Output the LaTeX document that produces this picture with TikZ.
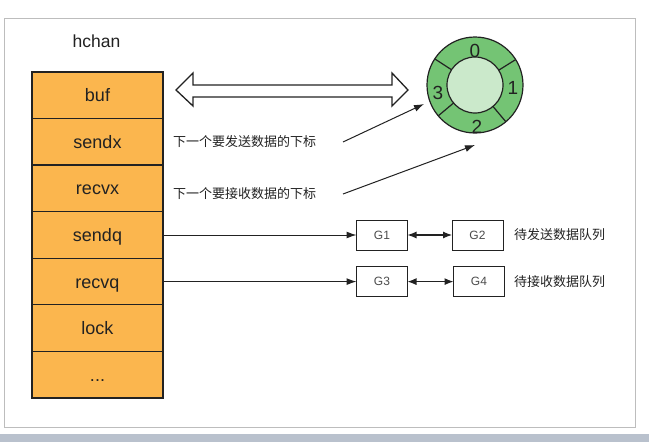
\documentclass[tikz,border=0pt]{standalone}
\usepackage{fontspec}
\setmainfont{Liberation Sans}
\newfontfamily\cjk{Noto Sans CJK SC}
\usetikzlibrary{arrows.meta,calc}
\definecolor{orangefill}{HTML}{FBB64E}
\definecolor{ringgreen}{HTML}{74C474}
\definecolor{hubgreen}{HTML}{CBE9CB}
\definecolor{framegray}{HTML}{BDBDBD}
\definecolor{stripblue}{HTML}{B9C1CD}
\definecolor{inkdark}{HTML}{222222}
\begin{document}
\begin{tikzpicture}[x=1pt,y=-1pt,
  fieldbox/.style={draw=inkdark, line width=1.2pt, fill=orangefill, minimum width=131pt, minimum height=46.57pt, inner sep=0pt, outer sep=0pt, text height=13pt, text depth=0pt, font=\fontsize{18}{20}\selectfont, text=inkdark},
  gbox/.style={draw=inkdark, line width=1pt, minimum width=51pt, minimum height=30pt, inner sep=0pt, outer sep=0pt, font=\fontsize{12}{14}\selectfont, text=black!70},
  cjktext/.style={font=\cjk\fontsize{13}{15}\selectfont, text=inkdark, inner sep=0pt, anchor=west},
  digit/.style={font=\fontsize{19}{21}\selectfont, text=inkdark, inner sep=0pt},
  ptr/.style={-{Latex[length=10pt,width=7pt]}, line width=1pt, draw=inkdark},
  biptr/.style={{Latex[length=9pt,width=7pt]}-{Latex[length=9pt,width=7pt]}, line width=1.1pt, draw=inkdark},
  ringline/.style={draw=inkdark, line width=1.2pt}
]
\useasboundingbox (0,0) rectangle (649,442);
\fill[white] (0,0) rectangle (649,442);
\fill[stripblue] (0,434) rectangle (649,442);
\draw[framegray, line width=1pt] (4,18) rectangle (635,427);

% title
\node[font=\fontsize{17.5}{20}\selectfont, text=inkdark] (title) at (96.5,41) {hchan};

% hchan fields
\node[fieldbox] (buf)   at (97.5,95.3)  {buf};
\node[fieldbox] (sendx) at (97.5,141.8) {sendx};
\node[fieldbox] (recvx) at (97.5,188.4) {recvx};
\node[fieldbox] (sendq) at (97.5,235.0) {sendq};
\node[fieldbox] (recvq) at (97.5,281.6) {recvq};
\node[fieldbox] (lock)  at (97.5,328.1) {lock};
\node[fieldbox] (more)  at (97.5,374.7) {...};

% ring buffer
\node[circle, minimum size=96pt, inner sep=0pt, outer sep=0pt, fill=ringgreen, ringline] (ring) at (475,85) {};
\node[circle, minimum size=56pt, inner sep=0pt, outer sep=0pt, fill=hubgreen, ringline] (hub) at (475,85) {};
\draw[ringline] (hub.147) -- (ring.147);
\draw[ringline] (hub.32) -- (ring.32);
\draw[ringline] (hub.-50) -- (ring.-50);
\draw[ringline] (hub.-140) -- (ring.-140);
\node[digit] (d0) at (475,51) {0};
\node[digit] (d1) at (513,88) {1};
\node[digit] (d2) at (477,127) {2};
\node[digit] (d3) at (438,93) {3};

% hollow double arrow
\draw[draw=inkdark, line width=1.3pt, fill=white, line join=miter]
  (176,90) -- (193,73) -- (193,85) -- (392,85) -- (392,73) -- (408,90)
  -- (392,106) -- (392,97) -- (193,97) -- (193,106) -- cycle;

% index notes
\node[cjktext] (sendxnote) at (173,142) {下一个要发送数据的下标};
\node[cjktext] (recvxnote) at (173,194) {下一个要接收数据的下标};
\coordinate (s1) at (343,142);
\coordinate (e1) at (424,104);
\coordinate (s2) at (343,194);
\coordinate (e2) at (475,145);
\draw[ptr] (s1) -- (e1);
\draw[ptr] (s2) -- (e2);

% wait queues
\node[gbox] (G1) at (382,235) {G1};
\node[gbox] (G2) at (477.5,235) {G2};
\node[gbox] (G3) at (382,281.6) {G3};
\node[gbox] (G4) at (479,281.6) {G4};
\draw[ptr] (sendq) -- (G1);
\draw[ptr] (recvq) -- (G3);
\draw[biptr] (G1) -- (G2);
\draw[biptr] (G3) -- (G4);
\node[cjktext] (sendqnote) at (514,235) {待发送数据队列};
\node[cjktext] (recvqnote) at (514,282) {待接收数据队列};
\end{tikzpicture}
\end{document}
